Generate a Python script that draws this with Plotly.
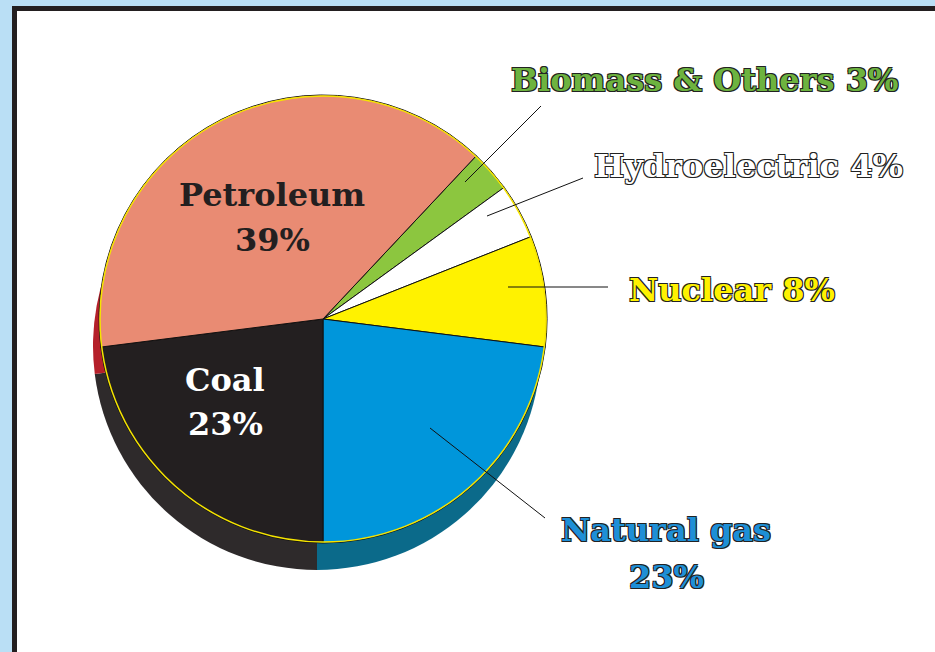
import plotly.graph_objects as go

W, H = 935, 652

# ---- data ----
labels = ["Biomass & Others", "Hydroelectric", "Nuclear", "Natural gas", "Coal", "Petroleum"]
values = [3, 4, 8, 23, 23, 39]
colors = ["#8CC63F", "#FFFFFF", "#FFF200", "#0096DB", "#231F20", "#E98B73"]
shadow_colors = ["#5E8A2A", "#CCCCCC", "#C8BE00", "#0B6A8A", "#2E2A2B", "#B5202A"]
label_colors = ["#6DB33F", "#FFFFFF", "#FFF200", "#1E8FD6", "#FFFFFF", "#231F20"]


def px_x(x):
    return x / W


def px_y(y):
    return 1 - y / H


R = 224
cx, cy = 323, 319
sx, sy = 317, 346


def dom(cx_, cy_, r):
    return dict(x=[px_x(cx_ - r), px_x(cx_ + r)], y=[px_y(cy_ + r), px_y(cy_ - r)])


fig = go.Figure()
fig.add_trace(go.Pie(
    labels=labels, values=values, sort=False, direction="clockwise", rotation=43.2,
    marker=dict(colors=shadow_colors, line=dict(width=0)),
    textinfo="none", hoverinfo="skip", showlegend=False, domain=dom(sx, sy, R),
))
fig.add_trace(go.Pie(
    labels=labels, values=values, sort=False, direction="clockwise", rotation=43.2,
    marker=dict(colors=colors, line=dict(color="#111111", width=1)),
    textinfo="none", showlegend=False, domain=dom(cx, cy, R),
))

shapes = [
    # panel
    dict(type="rect", xref="paper", yref="paper",
         x0=px_x(14.5), x1=px_x(960), y0=px_y(680), y1=px_y(8.5),
         line=dict(color="#231F20", width=5), fillcolor="white", layer="below"),
    # yellow rim of the pie
    dict(type="circle", xref="paper", yref="paper",
         x0=px_x(cx - R + 1), x1=px_x(cx + R - 1), y0=px_y(cy + R - 1), y1=px_y(cy - R + 1),
         line=dict(color="#F5E400", width=1.5)),
]

# leader lines (pixel coords)
leaders = [
    ((465, 182), (541, 106)),
    ((487, 216), (583, 178)),
    ((508, 287), (608, 287)),
    ((430, 428), (545, 518)),
]
for (x0, y0), (x1, y1) in leaders:
    shapes.append(dict(type="line", xref="paper", yref="paper",
                       x0=px_x(x0), y0=px_y(y0), x1=px_x(x1), y1=px_y(y1),
                       line=dict(color="#111111", width=1)))

outline = "1px 1px 0 #222, -1px -1px 0 #222, 1px -1px 0 #222, -1px 1px 0 #222"
FONT = "DejaVu Serif"
FS = 32


def ann(text, x, y, color, anchor="center", shadow=outline):
    return dict(text=text, x=px_x(x), y=px_y(y), xref="paper", yref="paper",
                xanchor=anchor, yanchor="middle", showarrow=False,
                font=dict(family=FONT, size=FS, color=color, weight="bold", shadow=shadow))


pct = [f"{v}%" for v in values]
annotations = [
    ann(f"{labels[0]} {pct[0]}", 509, 80, label_colors[0], "left"),
    ann(f"{labels[1]} {pct[1]}", 592, 166, label_colors[1], "left"),
    ann(f"{labels[2]} {pct[2]}", 627, 290, label_colors[2], "left"),
    ann(labels[3], 666, 530, label_colors[3]),
    ann(pct[3], 666, 577, label_colors[3]),
    ann(labels[5], 272, 195, label_colors[5], shadow="none"),
    ann(pct[5], 272, 240, label_colors[5], shadow="none"),
    ann(labels[4], 225, 380, label_colors[4], shadow="none"),
    ann(pct[4], 225, 424, label_colors[4], shadow="none"),
]

fig.update_layout(
    width=W, height=H, margin=dict(l=0, r=0, t=0, b=0),
    paper_bgcolor="#BADFF5", plot_bgcolor="#BADFF5",
    shapes=shapes, annotations=annotations,
)

fig.write_html("out.html", config={"displayModeBar": False},
               post_script="document.body.style.margin='0';document.body.style.overflow='hidden';")
